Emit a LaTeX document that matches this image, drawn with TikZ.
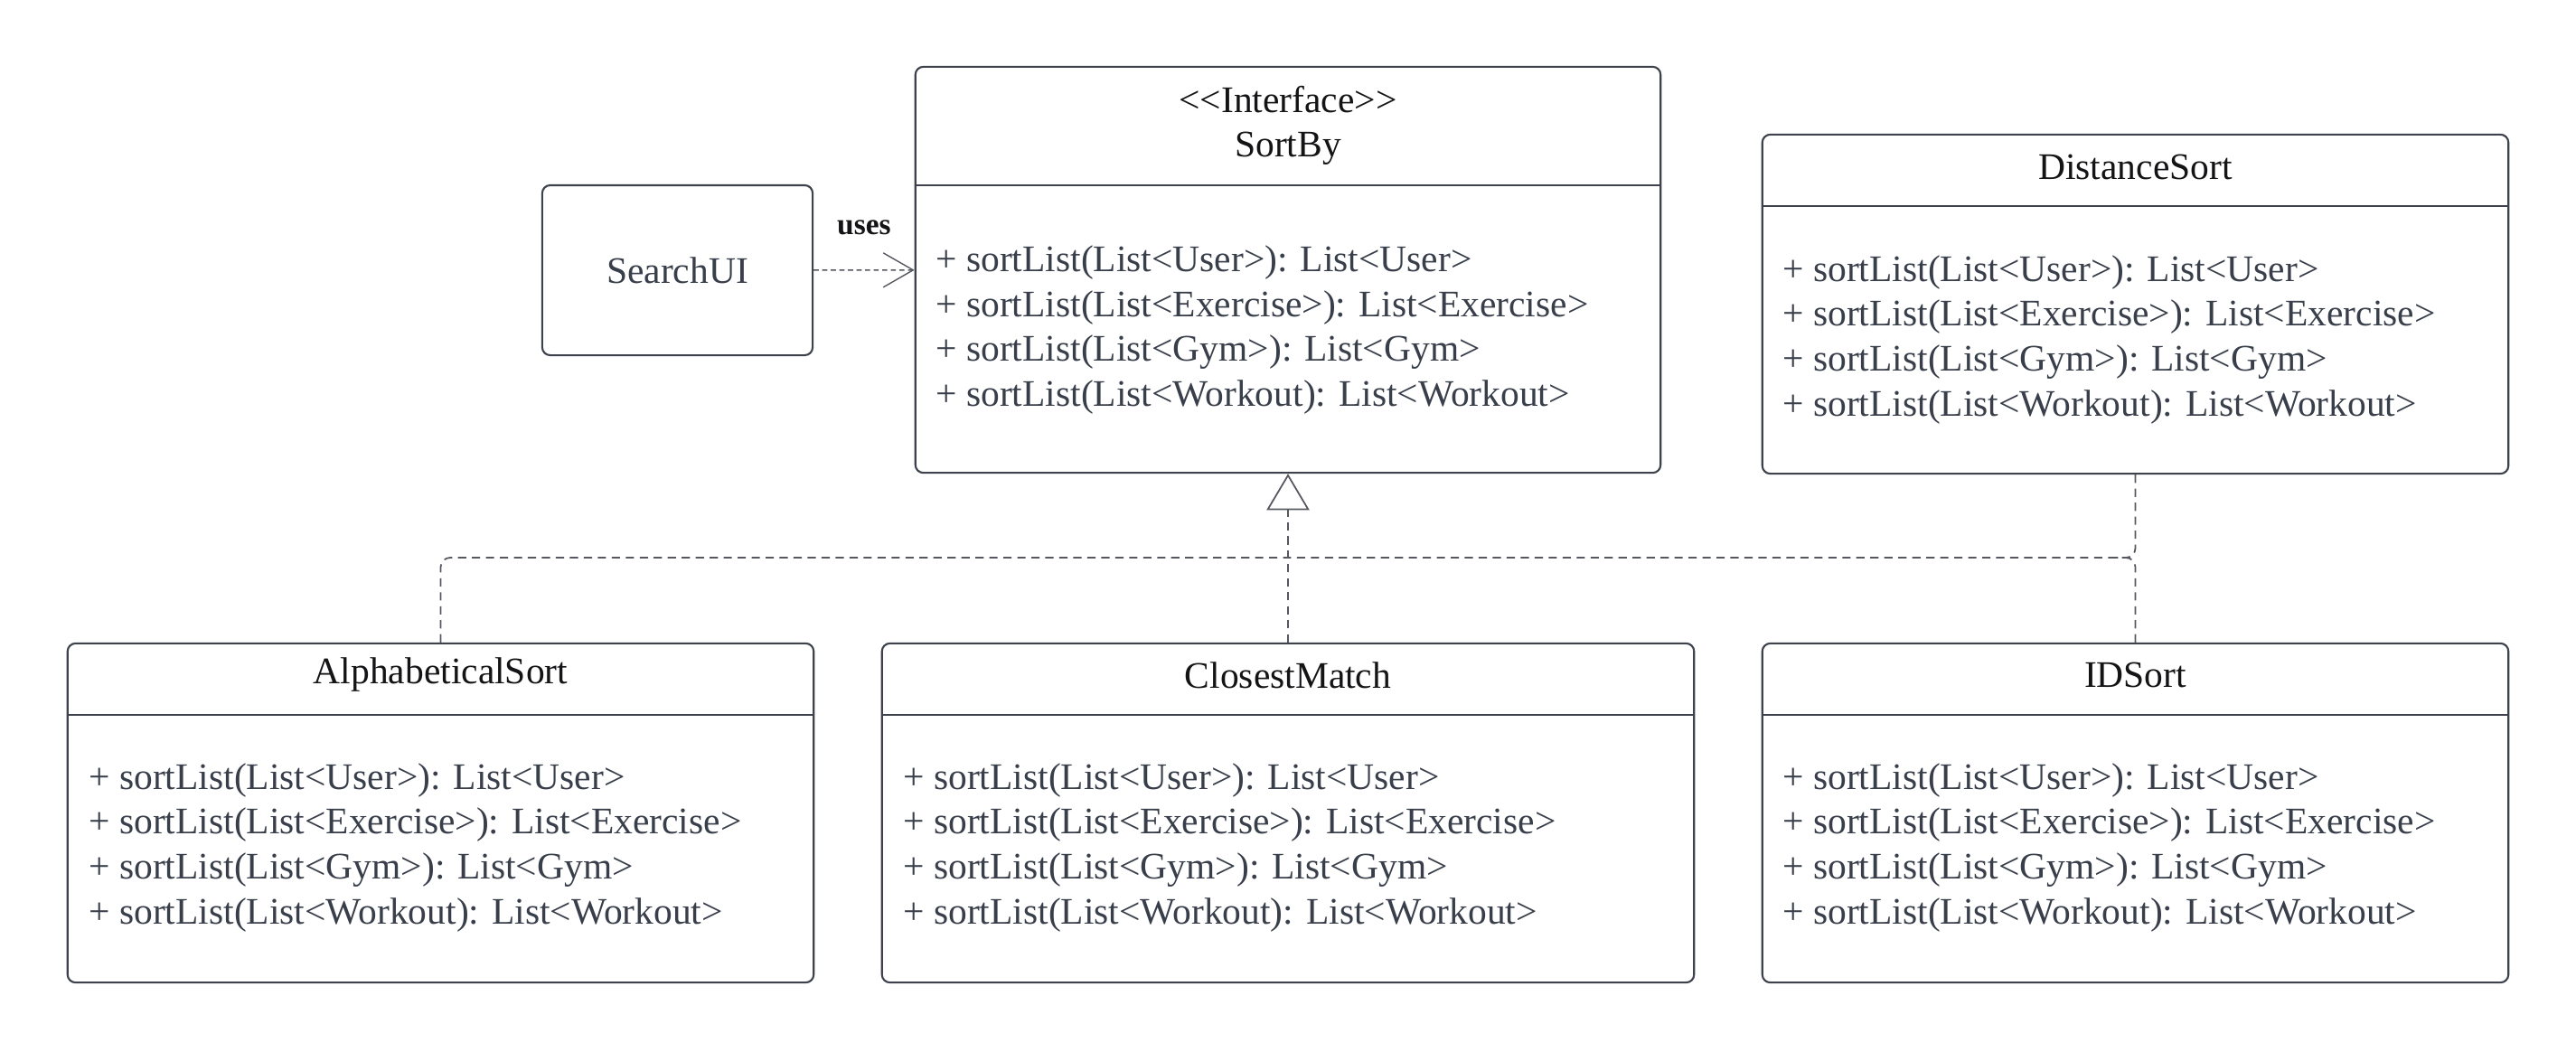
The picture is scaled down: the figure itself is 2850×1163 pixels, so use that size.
\documentclass[tikz,border=0pt]{standalone}
\usepackage{fontspec}
\setmainfont{Liberation Serif}
\usetikzlibrary{positioning,arrows.meta}
\definecolor{colorline}  {RGB}{61 ,66 ,77 }
\definecolor{colortitle} {RGB}{20 ,20 ,22 }
\definecolor{colortext}  {RGB}{57 ,63 ,74 }
\definecolor{colordash}  {RGB}{85 ,88 ,95 }

\newcommand{\sortmethods}{%
+ sortList(List<User>): List<User>\\
+ sortList(List<Exercise>): List<Exercise>\\
+ sortList(List<Gym>): List<Gym>\\
+ sortList(List<Workout): List<Workout>}

\begin{document}
\begin{tikzpicture}[
    x=0.01cm, y=-0.01cm,
    font={\fontsize{11.8pt}{14.2pt}\selectfont},
    classbox/.style={rectangle,draw=colorline,line width=0.6pt,rounded corners=2.5pt,inner sep=0pt},
    divider/.style={draw=colorline,line width=0.6pt},
    title/.style={text=colortitle,align=center,inner sep=0pt},
    methods/.style={text=colortext,align=left,inner sep=0pt,anchor=west},
    realize/.style={draw=colordash,line width=0.5pt,dash pattern=on 2.6pt off 1.8pt,rounded corners=3pt},
    uses/.style={draw=colordash,line width=0.4pt,dash pattern=on 1.6pt off 1.1pt,-{Straight Barb[length=9.4pt,width=10.8pt]}},
]
    \useasboundingbox (0,0) rectangle (2850,1163);

    % Boxes
    \node[classbox,minimum width=8.24cm,minimum height=4.49cm] (sortby)   at (1425,298.5) {};
    \node[classbox,minimum width=8.25cm,minimum height=3.75cm] (distance) at (2362.5,336.5) {};
    \node[classbox,minimum width=2.99cm,minimum height=1.88cm,text=colortext] (search) at (749.5,299) {SearchUI};
    \node[classbox,minimum width=8.25cm,minimum height=3.75cm] (alpha)    at (487.5,899.5) {};
    \node[classbox,minimum width=8.98cm,minimum height=3.75cm] (closest)  at (1425,899.5) {};
    \node[classbox,minimum width=8.25cm,minimum height=3.75cm] (idsort)   at (2362.5,899.5) {};

    % Dividers
    \draw[divider] ([yshift=-1.32cm]sortby.north west)   -- ([yshift=-1.32cm]sortby.north east);
    \draw[divider] ([yshift=-0.8cm]distance.north west)  -- ([yshift=-0.8cm]distance.north east);
    \draw[divider] ([yshift=-0.8cm]alpha.north west)     -- ([yshift=-0.8cm]alpha.north east);
    \draw[divider] ([yshift=-0.8cm]closest.north west)   -- ([yshift=-0.8cm]closest.north east);
    \draw[divider] ([yshift=-0.8cm]idsort.north west)    -- ([yshift=-0.8cm]idsort.north east);

    % Text
    \node[title] (sortbytxt)   at ([yshift=-0.66cm]sortby.north)   {<{}<Interface>{}>\\SortBy};
    \node[title] (distancetxt) at ([yshift=-0.37cm]distance.north) {DistanceSort};
    \node[title] (alphatxt)    at ([yshift=-0.36cm]alpha.north)    {AlphabeticalSort};
    \node[title] (closesttxt)  at ([yshift=-0.36cm]closest.north)  {ClosestMatch};
    \node[title] (idsorttxt)   at ([yshift=-0.36cm]idsort.north)   {IDSort};

    \node[methods] (sortbyops)   at ([xshift=0.23cm,yshift=-2.92cm]sortby.north west)   {\sortmethods};
    \node[methods] (distanceops) at ([xshift=0.23cm,yshift=-2.28cm]distance.north west) {\sortmethods};
    \node[methods] (alphaops)    at ([xshift=0.24cm,yshift=-2.27cm]alpha.north west)    {\sortmethods};
    \node[methods] (closestops)  at ([xshift=0.24cm,yshift=-2.27cm]closest.north west)  {\sortmethods};
    \node[methods] (idsortops)   at ([xshift=0.23cm,yshift=-2.27cm]idsort.north west)   {\sortmethods};

    % Arrows
    \coordinate (join)   at (1425,617);
    \coordinate (joinid) at (2330,617);
    \draw[uses] (search) -- (sortby)
        node[midway,above=0.38cm,inner sep=0pt,text=colortitle,font={\fontsize{9.5pt}{11pt}\selectfont\bfseries}] (usestxt) {uses};
    \draw[realize,-{Triangle[open,length=11.4pt,width=13.4pt,fill=white]}] (closest.north) -- (sortby.south);
    \draw[realize] (alpha.north)    |- (join);
    \draw[realize] (distance.south) |- (join);
    \draw[realize] (idsort.north)   |- (joinid);

\end{tikzpicture}
\end{document}
